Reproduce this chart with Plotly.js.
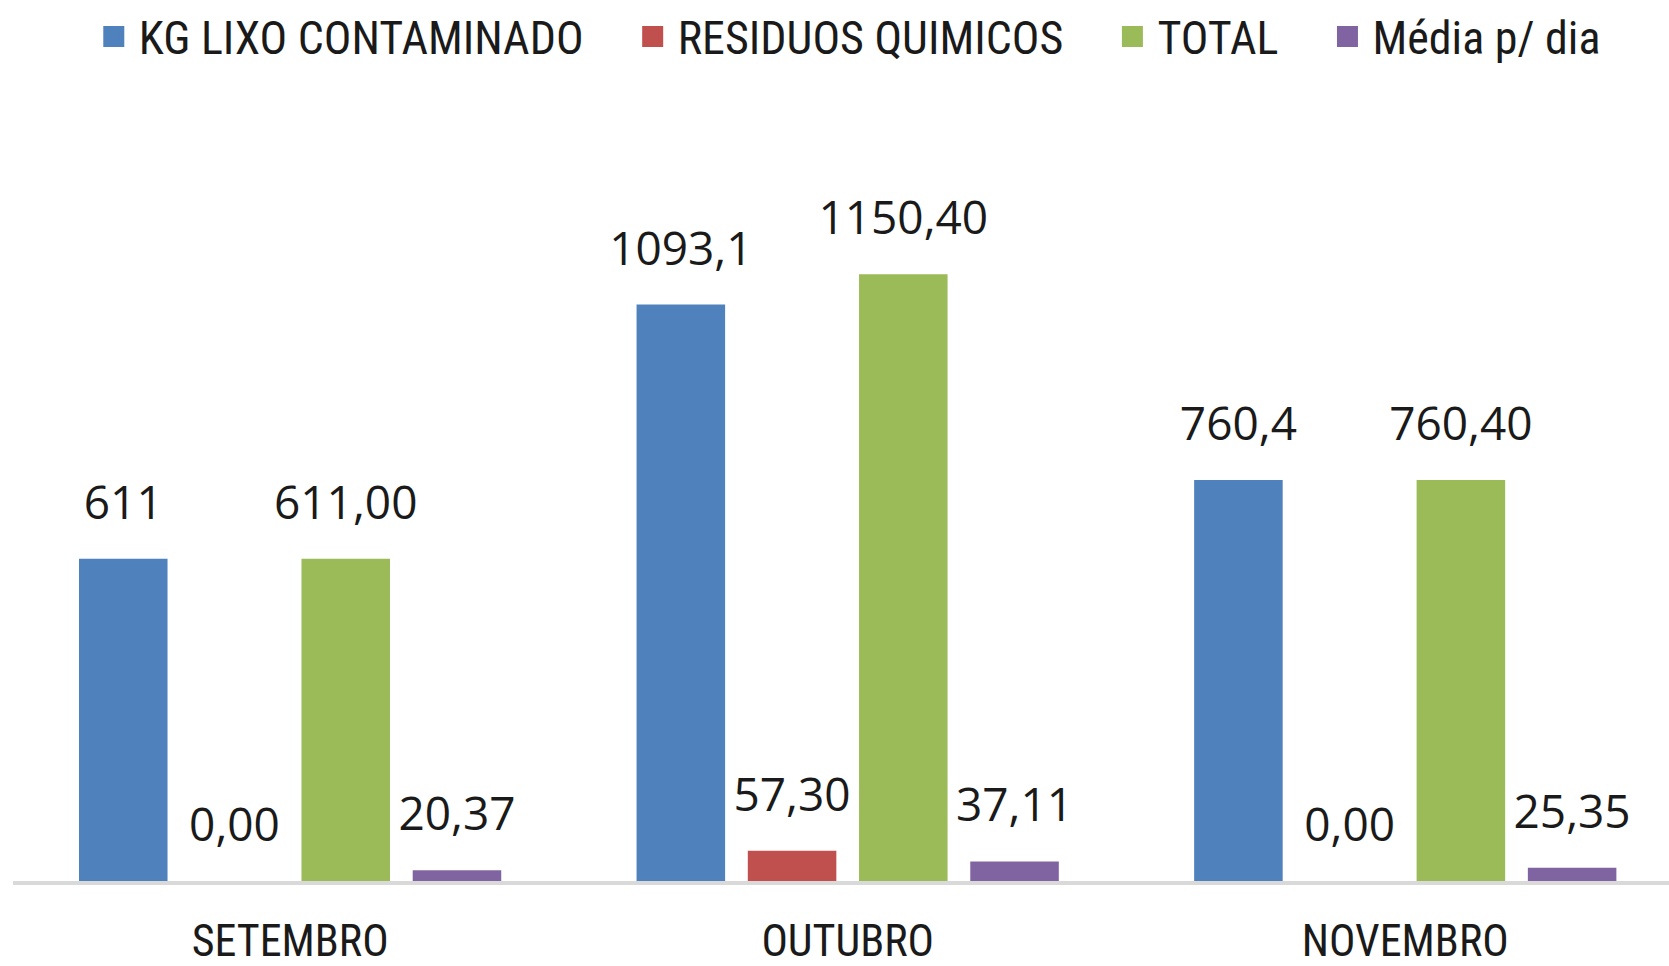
<!DOCTYPE html>
<html>
<head>
<meta charset="utf-8">
<script src="https://cdn.plot.ly/plotly-3.0.1.min.js"></script>
<style>html,body{margin:0;padding:0;background:#fff;}#chart{width:1669px;height:966px;}</style>
</head>
<body>
<div id="chart"></div>
<script>
const months = ["SETEMBRO", "OUTUBRO", "NOVEMBRO"];
const seriesNames = ["KG LIXO CONTAMINADO", "RESIDUOS QUIMICOS", "TOTAL", "Média p/ dia"];
const lixoContaminado = [611, 1093.1, 760.4];
const residuosQuimicos = [0, 57.3, 0];
const total = [611, 1150.4, 760.4];
const mediaPorDia = [20.37, 37.11, 25.35];
const colors = ["#4f81bd", "#c0504d", "#9bbb59", "#8064a2"];

const allSeries = [lixoContaminado, residuosQuimicos, total, mediaPorDia];
const fmtRaw = v => String(v).replace(".", ",");
const fmt2 = v => v.toFixed(2).replace(".", ",");
const formatters = [fmtRaw, fmt2, fmt2, fmt2];

const labelFont = {family: "Open Sans, sans-serif", size: 46, color: "#1a1a1a"};
const narrowFont = "Liberation Sans Narrow, Arial Narrow, Roboto Condensed, sans-serif";

const traces = [];
// bars
allSeries.forEach((vals, i) => {
  traces.push({
    type: "bar", name: seriesNames[i], x: months, y: vals,
    marker: {color: colors[i], line: {width: 0}},
    textposition: "none", hoverinfo: "x+y+name", showlegend: false
  });
});
// data labels, grouped like the bars
allSeries.forEach((vals, i) => {
  traces.push({
    type: "scatter", mode: "markers+text", x: months, y: vals, orientation: "v",
    text: vals.map(formatters[i]), textposition: "top center", textfont: labelFont,
    marker: {size: 44, color: "rgba(0,0,0,0)"}, showlegend: false, hoverinfo: "skip",
    cliponaxis: false
  });
});
// legend entries (square swatches) on hidden overlay axes; their point lies outside the axis range
seriesNames.forEach((nm, i) => {
  const pad = i < seriesNames.length - 1 ? "\u00a0\u00a0\u00a0\u2006" : "";
  traces.push({
    type: "scatter", mode: "markers", name: nm + pad, x: [0], y: [0],
    xaxis: "x2", yaxis: "y2", hoverinfo: "skip", cliponaxis: true, showlegend: true,
    marker: {symbol: "square", size: 16, color: colors[i], line: {width: 5, color: colors[i]}}
  });
});

const layout = {
  width: 1669, height: 966,
  margin: {l: 13, r: 0, t: 90, b: 85},
  paper_bgcolor: "#ffffff", plot_bgcolor: "#ffffff",
  barmode: "group", bargap: 0.202, bargroupgap: 0.204,
  scattermode: "group", scattergap: 0.202,
  showlegend: true,
  legend: {
    orientation: "h", x: 0.5038, xanchor: "center", y: 1, yref: "container", yanchor: "top",
    font: {family: narrowFont, size: 46, color: "#1a1a1a"}, traceorder: "normal", itemwidth: 40
  },
  xaxis: {
    type: "category", range: [-0.497, 2.473], showgrid: false, zeroline: false,
    showline: true, linecolor: "#d9d9d9", linewidth: 4, ticks: "",
    tickfont: {family: narrowFont, size: 44, color: "#1a1a1a"}, ticklabelstandoff: 18
  },
  yaxis: {range: [0, 1500], showgrid: false, zeroline: false, showticklabels: false, showline: false, ticks: ""},
  xaxis2: {overlaying: "x", visible: false, range: [5, 6], fixedrange: true},
  yaxis2: {overlaying: "y", visible: false, range: [5, 6], fixedrange: true}
};

Plotly.newPlot("chart", traces, layout, {displayModeBar: false, staticPlot: true});
</script>
</body>
</html>
